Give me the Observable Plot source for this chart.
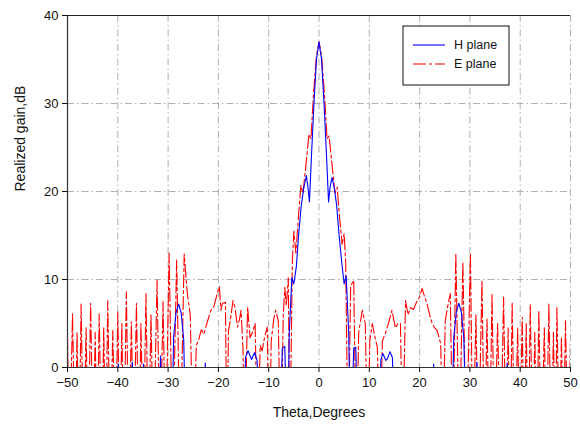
<!DOCTYPE html>
<html>
<head>
<meta charset="utf-8">
<script src="https://cdn.jsdelivr.net/npm/d3@7"></script>
<script src="https://cdn.jsdelivr.net/npm/@observablehq/plot@0.6"></script>
<style>
  html, body { margin: 0; padding: 0; background: #fff; }
  #chart { width: 580px; height: 428px; }
</style>
</head>
<body>
<div id="chart"></div>
<script>
// ---- data ----
const xTicks = [-50, -40, -30, -20, -10, 0, 10, 20, 30, 40, 50];
const yTicks = [0, 10, 20, 30, 40];
const seriesNames = ["H plane", "E plane"];

// E plane (red dashed): theta (deg) and realized gain (dB); deep nulls fall below 0 and are clipped
const eTheta = [
  -50.0, -49.6, -49.0, -48.5, -48.1, -47.7, -47.3, -46.8, -46.3, -45.9, -45.4, -44.9, -44.5, -44.1,
  -43.7, -43.2, -42.8, -42.4, -42.0, -41.5, -41.0, -40.5, -40.0, -39.6, -39.2, -38.8, -38.3, -37.8,
  -37.3, -36.8, -36.3, -35.8, -35.4, -34.9, -34.4, -33.9, -33.4, -32.9, -32.2, -31.6, -31.0, -30.5,
  -29.8, -29.1, -28.3, -27.6, -26.8, -26.2, -25.6, -25.0, -24.4, -23.9, -23.4, -22.9, -22.2, -21.5,
  -20.9, -20.2, -19.8, -19.5, -19.2, -18.6, -18.3, -18.0, -17.6, -17.1, -16.7, -16.2, -15.8, -15.5,
  -15.1, -14.8, -14.2, -13.7, -13.2, -12.7, -12.2, -11.7, -11.3, -10.8, -10.3, -9.9, -9.5, -9.0,
  -8.6, -8.1, -7.6, -7.1, -6.8, -6.5, -6.1, -5.8, -5.3, -5.0, -4.6, -4.1, -3.6, -3.2, -2.6, -2.0,
  -1.6, -1.1, -0.5, 0.0, 0.5, 1.1, 1.6, 2.0, 2.6, 3.2, 3.6, 4.1, 4.6, 5.0, 5.3, 5.8, 6.3, 6.9,
  7.4, 7.9, 8.6, 9.2, 9.7, 10.1, 10.6, 11.1, 11.6, 12.1, 12.6, 13.2, 13.8, 14.5, 15.2, 15.7, 16.2,
  16.6, 17.2, 17.7, 18.2, 18.8, 19.5, 20.0, 20.5, 21.0, 21.5, 22.0, 22.5, 23.0, 23.5, 24.2, 24.6,
  25.1, 25.6, 26.1, 26.6, 27.2, 27.9, 28.6, 29.3, 30.1, 30.6, 31.2, 31.7, 32.4, 32.9, 33.4, 33.9,
  34.4, 34.9, 35.5, 36.1, 36.7, 37.2, 37.6, 38.0, 38.4, 38.9, 39.5, 39.9, 40.4, 40.8, 41.2, 41.6,
  42.0, 42.5, 42.9, 43.3, 43.7, 44.2, 44.8, 45.2, 45.7, 46.2, 46.6, 47.0, 47.3, 47.8, 48.2, 48.6,
  49.0, 49.5, 50.0
];
const eGain = [
  3.5, -10, 6.1, -10, 4.0, -10, 7.2, -10, 4.5, -10, 7.3, -10, 4.0, -10,
  6.1, -10, 4.5, -10, 7.6, -10, 4.2, -10, 6.3, -10, 5.0, -10, 8.6, -10,
  5.2, -10, 7.3, -10, 5.0, -10, 8.4, -10, 6.0, -10, 9.9, -10, 7.5, -10,
  13.0, -10, 12.2, -10, 12.9, 8.5, 6.0, -10, 2.5, 3.2, 4.3, 3.8, 5.2, 6.5,
  6.9, 8.5, 9.2, 6.5, 7.3, 7.4, -10, 4.2, 5.5, 7.6, 6.8, 4.6, 5.5, 6.5,
  2.0, -10, 6.9, 3.4, 4.0, 5.0, -10, 2.5, 1.9, 3.5, 4.6, -10, 3.0, 5.5,
  6.5, 5.3, -10, 6.0, 9.1, 7.0, 10.2, -10, 12.0, 15.5, 13.0, 17.0, 20.7, 19.8, 23.0, 26.5,
  26.0, 31.0, 35.5, 37.0, 35.5, 31.0, 26.0, 26.3, 23.0, 19.8, 20.5, 17.0, 14.0, 15.2, 12.0, -10, 9.3, 9.9,
  -10, 4.0, 6.5, 5.0, -10, 3.0, 5.0, 3.5, 2.3, -10, 3.0, 3.9, 5.0, 6.5, 4.5, 5.0, 5.0,
  -10, 7.6, 6.0, 6.8, 6.6, 7.6, 8.0, 9.0, 8.0, 7.2, 6.0, 5.0, 4.5, 4.2, 2.7, -10,
  5.3, 7.0, 8.4, -10, 13.0, -10, 12.0, -10, 13.0, -10, 6.0, -10, 9.9, -10, 5.5, -10,
  8.4, -10, 5.0, -10, 8.0, -10, 4.5, -10, 7.4, -10, 4.5, -10, 5.7, -10, 5.0, -10,
  7.2, -10, 4.0, -10, 6.5, -10, 4.5, -10, 7.2, -10, 4.0, -10, 6.8, -10, 3.5, -10,
  5.3, -10, 3.0
];

// H plane (blue solid)
const hTheta = [
  -50.0, -40.4, -39.9, -39.4, -37.6, -37.1, -36.6, -35.4, -34.9, -34.4, -32.1, -31.5, -30.9,
  -29.3, -28.9, -28.4, -27.9, -27.4, -26.9, -26.4, -23.1, -22.6, -22.1, -15.1, -14.6, -14.1,
  -13.6, -13.4, -12.8, -12.3, -11.8, -7.9, -7.3, -6.8, -6.3, -5.9, -5.4, -5.0, -4.5, -4.0, -3.5,
  -3.0, -2.5, -2.2, -1.9, -1.5, -1.0, -0.5, 0.0, 0.5, 1.0, 1.5, 1.9, 2.2, 2.6, 3.0, 3.5, 4.0,
  4.6, 5.0, 5.4, 5.9, 6.3, 6.9, 7.3, 7.9, 11.9, 12.3, 12.7, 13.3, 13.6, 14.1, 14.6, 15.1, 22.3,
  22.8, 23.3, 26.3, 26.8, 27.3, 27.8, 28.3, 28.8, 29.3, 30.9, 31.4, 31.9, 36.9, 37.4, 37.9, 50.0
];
const hGain = [
  -10, -10, 0.4, -10, -10, 0.6, -10, -10, 0.4, -10, -10, 1.3, -10,
  -10, 3.5, 6.3, 7.2, 6.2, 3.2, -10, -10, 0.5, -10, -10, 1.2, 1.9,
  1.2, 0.9, 1.7, 0.8, -10, -10, 2.2, 2.4, -10, 4.0, 10.2, 9.5, 11.5, 15.5, 18.5,
  20.5, 21.8, 20.5, 18.8, 24.0, 30.0, 35.0, 37.0, 35.0, 30.0, 24.0, 18.8, 20.5, 21.6, 20.5, 18.5, 15.0,
  11.5, 9.5, 10.4, 4.0, -10, 2.2, 2.3, -10, -10, 0.9, 1.6, 0.8, 1.0, 1.8, 1.1, -10, -10,
  0.4, -10, -10, 3.5, 6.3, 7.3, 6.3, 3.3, -10, -10, 0.6, -10, -10, 0.5, -10, -10
];

// ---- build rows ----
const eRows = eTheta.map((t, i) => ({theta: t, gain: eGain[i]}));
const hRows = hTheta.map((t, i) => ({theta: t, gain: hGain[i]}));

const FONT = "'Liberation Sans', Arial, Helvetica, sans-serif";
const gridStyle = {stroke: "#b0b0b0", strokeWidth: 1, strokeDasharray: "7,3,1.5,3"};

const chart = Plot.plot({
  width: 580,
  height: 428,
  marginLeft: 67,
  marginRight: 10,
  marginTop: 15,
  marginBottom: 61,
  style: {fontFamily: FONT, fontSize: "13px", color: "#111", background: "#fff"},
  x: {domain: [-50, 50]},
  y: {domain: [0, 40]},
  marks: [
    Plot.ruleX(xTicks.filter(d => d > -50), {...gridStyle}),
    Plot.ruleY(yTicks.filter(d => d > 0 && d < 40), {...gridStyle}),
    Plot.line(eRows, {x: "theta", y: "gain", stroke: "#ff0000", strokeWidth: 1.1,
      strokeDasharray: "13,3,3,3", clip: true, curve: "linear"}),
    Plot.line(hRows, {x: "theta", y: "gain", stroke: "#0000ff", strokeWidth: 1.1,
      clip: true, curve: "linear"}),
    Plot.ruleY([0], {stroke: "#333", strokeWidth: 1.2}),
    Plot.ruleX([-50], {stroke: "#333", strokeWidth: 1.2}),
    Plot.ruleY([40], {stroke: "#222", strokeWidth: 1.2}),
    Plot.axisX({ticks: xTicks, tickSize: 5, tickPadding: 5, label: null, fontSize: 13}),
    Plot.axisY({ticks: yTicks, tickSize: 5, tickPadding: 4, label: null, fontSize: 13}),
    Plot.text(["Theta,Degrees"], {frameAnchor: "bottom", dy: 49, fontSize: 14, text: d => d}),
    Plot.text(["Realized gain,dB"], {frameAnchor: "left", dx: -47, rotate: -90, fontSize: 14, text: d => d})
  ]
});

document.getElementById("chart").appendChild(chart);

// ---- legend box (top-right inside plot) ----
const svg = d3.select(chart);
const lg = svg.append("g").attr("transform", "translate(403,26)");
lg.append("rect").attr("x", 0).attr("y", 0).attr("width", 106).attr("height", 59)
  .attr("fill", "#fff").attr("stroke", "#111").attr("stroke-width", 1);
const legendColors = ["#0000ff", "#ff0000"];
const legendDash = [null, "13,3,3,3"];
seriesNames.forEach((name, i) => {
  const y = 19 + i * 19;
  const ln = lg.append("line").attr("x1", 10).attr("x2", 42).attr("y1", y).attr("y2", y)
    .attr("stroke", legendColors[i]).attr("stroke-width", 1.1);
  if (legendDash[i]) ln.attr("stroke-dasharray", legendDash[i]);
  lg.append("text").attr("x", 51).attr("y", y).attr("dy", "0.35em")
    .attr("text-anchor", "start")
    .attr("font-family", FONT).attr("font-size", 12.5).attr("fill", "#111").text(name);
});
</script>
</body>
</html>
